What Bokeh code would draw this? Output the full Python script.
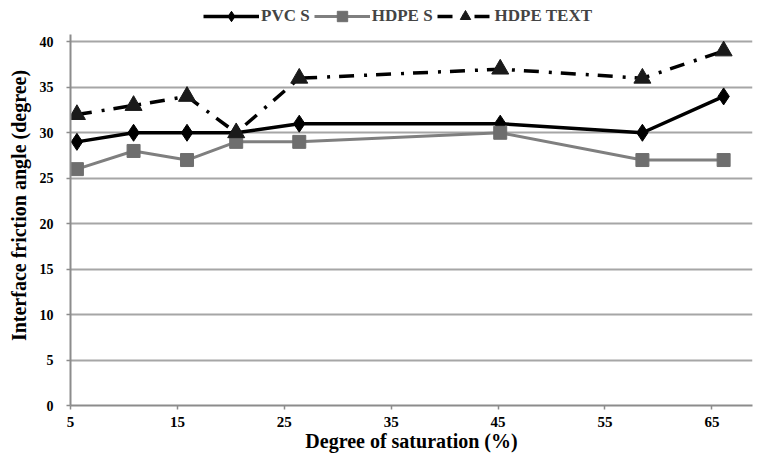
from bokeh.plotting import figure
from bokeh.models import Legend, LegendItem, FixedTicker, Range1d
from bokeh.embed import file_html
from bokeh.resources import INLINE

saturation = [5.6, 10.9, 15.9, 20.5, 26.4, 45.2, 58.5, 66.1]
pvc_s = [29, 30, 30, 30, 31, 31, 30, 34]
hdpe_s = [26, 28, 27, 29, 29, 30, 27, 27]
hdpe_text = [32, 33, 34, 30, 36, 37, 36, 39]
x_ticks = [5, 15, 25, 35, 45, 55, 65]
y_ticks = [0, 5, 10, 15, 20, 25, 30, 35, 40]

FONT = "Liberation Serif"

p = figure(width=760, height=460, output_backend="svg", toolbar_location=None,
           x_range=Range1d(5, 68.8), y_range=Range1d(0, 44),
           min_border_left=70, min_border_right=8, min_border_bottom=55, min_border_top=5,
           background_fill_color="white", border_fill_color="white")
p.outline_line_color = None

p.xgrid.visible = False
p.ygrid.ticker = FixedTicker(ticks=y_ticks)
p.ygrid.grid_line_color = "#a6a6a6"
p.ygrid.grid_line_width = 2

for ax in (p.xaxis[0], p.yaxis[0]):
    ax.axis_line_color = "#8c8c8c"
    ax.axis_line_width = 2
    ax.major_tick_line_color = "#8c8c8c"
    ax.major_tick_line_width = 1.5
    ax.major_tick_out = 4
    ax.major_tick_in = 0
    ax.minor_tick_line_color = None
    ax.major_label_text_font = FONT
    ax.major_label_text_font_style = "bold"
    ax.major_label_text_color = "black"
    ax.axis_label_text_font = FONT
    ax.axis_label_text_font_style = "bold"
    ax.axis_label_text_font_size = "20px"
    ax.axis_label_text_color = "black"

p.xaxis.ticker = FixedTicker(ticks=x_ticks)
p.yaxis.ticker = FixedTicker(ticks=y_ticks)
p.yaxis.bounds = (0, 40.8)
p.xaxis.major_label_text_font_size = "15px"
p.yaxis.major_label_text_font_size = "14px"
p.xaxis.axis_label = "Degree of saturation (%)"
p.yaxis.axis_label = "Interface friction angle (degree)"
p.xaxis.major_label_standoff = 7
p.xaxis.axis_label_standoff = 0
p.yaxis.major_label_standoff = 13
p.yaxis.axis_label_standoff = 7

l1 = p.line(saturation, pvc_s, line_color="black", line_width=3.5)
m1 = p.scatter(saturation, pvc_s, marker="diamond", size=17, fill_color="black", line_color="black")
l2 = p.line(saturation, hdpe_s, line_color="#7f7f7f", line_width=3)
m2 = p.scatter(saturation, hdpe_s, marker="square", size=13, fill_color="#6e6e6e", line_color="#6e6e6e")
l3 = p.line(saturation, hdpe_text, line_color="black", line_width=3.5, line_dash="15 10 3 9")
m3 = p.scatter(saturation, hdpe_text, marker="triangle", size=17, fill_color="#1a1a1a", line_color="#1a1a1a")

legend = Legend(items=[LegendItem(label="PVC S", renderers=[l1, m1]),
                       LegendItem(label="HDPE S", renderers=[l2, m2]),
                       LegendItem(label="HDPE TEXT", renderers=[l3, m3])],
                orientation="horizontal", location=(133, 376),
                label_text_font=FONT, label_text_font_style="bold",
                label_text_font_size="17px", glyph_width=56, glyph_height=26,
                label_standoff=2, spacing=4, padding=0, margin=0,
                border_line_color=None, background_fill_alpha=0)
p.add_layout(legend, "center")

open("out.html", "w").write(file_html(p, INLINE))
